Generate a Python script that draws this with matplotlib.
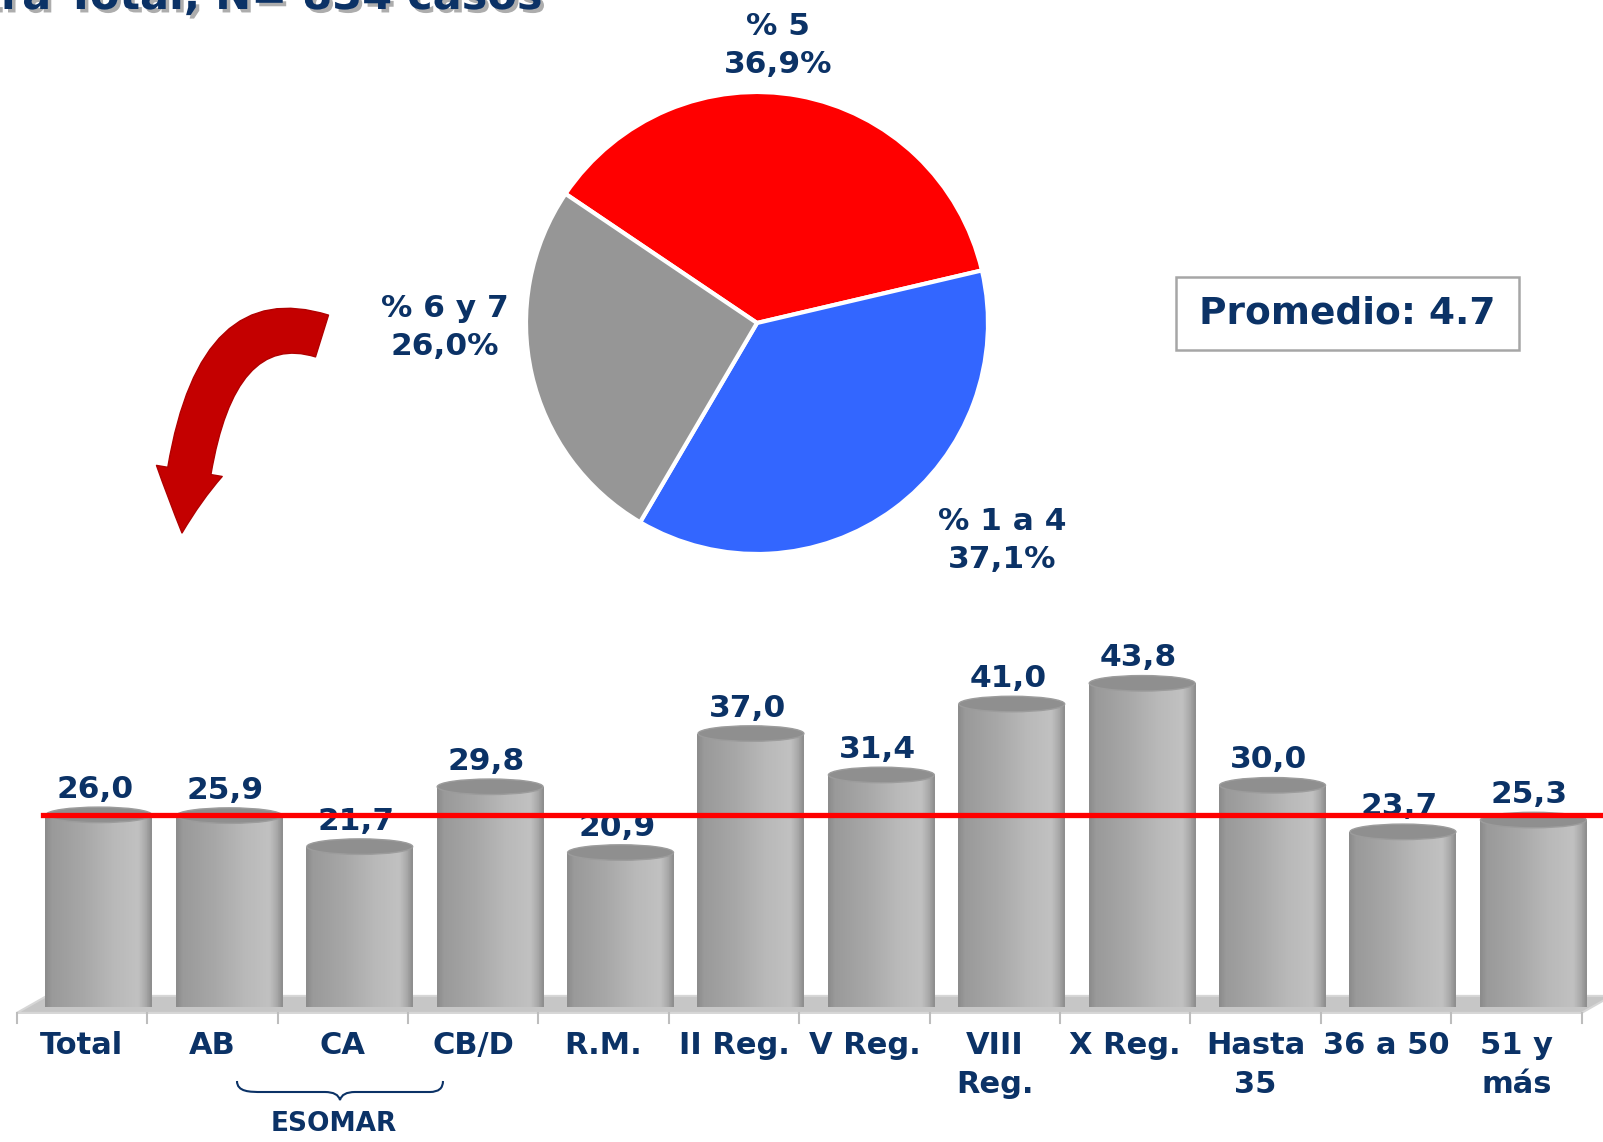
import matplotlib
matplotlib.use("Agg")
import matplotlib.pyplot as plt
import matplotlib.patheffects as pe
import numpy as np
from matplotlib.patches import Ellipse, Polygon, Rectangle, FancyArrowPatch, PathPatch
from matplotlib.path import Path
from matplotlib.colors import LinearSegmentedColormap

# %%
# Data
categories = ["Total", "AB", "CA", "CB/D", "R.M.", "II Reg.", "V Reg.",
              "VIII\nReg.", "X Reg.", "Hasta\n35", "36 a 50", "51 y\nmás"]
values = [26.0, 25.9, 21.7, 29.8, 20.9, 37.0, 31.4, 41.0, 43.8, 30.0, 23.7, 25.3]
reference_value = values[0]

pie_labels = ["% 5", "% 1 a 4", "% 6 y 7"]
pie_values = [36.9, 37.1, 26.0]
pie_colors = ["#FF0000", "#3366FF", "#969696"]

title = "Muestra Total, N= 834 casos"
promedio = "Promedio: 4.7"
group_label = "ESOMAR"

NAVY = "#0B3266"
plt.rcParams["font.family"] = ["DejaVu Sans"]
plt.rcParams["font.weight"] = "bold"

W, H = 1603, 1142
fig = plt.figure(figsize=(W / 100, H / 100), dpi=100)
fig.patch.set_facecolor("white")

# overlay in pixel coordinates for annotations
ov = fig.add_axes([0, 0, 1, 1])
ov.set_xlim(0, W)
ov.set_ylim(H, 0)
ov.axis("off")

ov.text(542, 9, title, ha="right", va="baseline", fontsize=31,
        fontweight="heavy", color=NAVY,
        path_effects=[pe.SimplePatchShadow(offset=(2.5, -2.5), shadow_rgbFace="#8a8a8a", alpha=0.7),
                      pe.Normal()])

# curved arrow (hook from the pie down to the bars)
hook = Path([(322, 336), (200, 298), (182, 533)],
            [Path.MOVETO, Path.CURVE3, Path.CURVE3])
arrow = FancyArrowPatch(path=hook,
                        arrowstyle="simple,head_length=1.5,head_width=1.6,tail_width=1.05",
                        mutation_scale=30, fc="#C40000", ec="#B00000", lw=1)
ov.add_patch(arrow)

# Promedio box
ov.add_patch(Rectangle((1176, 277), 343, 73, fill=False, ec="#A6A6A6", lw=1.8))
ov.text(1347, 314, promedio, ha="center", va="center", fontsize=27, color=NAVY)

# brace under the ESOMAR group
verts = [(237, 1081), (237, 1092), (250, 1092), (262, 1092),
         (325, 1092), (338, 1092), (340, 1100),
         (342, 1092), (355, 1092),
         (430, 1092), (443, 1092), (443, 1081)]
codes = [Path.MOVETO, Path.CURVE4, Path.CURVE4, Path.CURVE4,
         Path.LINETO, Path.CURVE3, Path.CURVE3,
         Path.CURVE3, Path.CURVE3,
         Path.LINETO, Path.CURVE3, Path.CURVE3]
ov.add_patch(PathPatch(Path(verts, codes), fill=False, ec=NAVY, lw=1.5))
ov.text(334, 1111, group_label, ha="center", va="top", fontsize=19, color=NAVY)

# %%
# Pie
cx, cy, r = 757, 323, 231
pax = fig.add_axes([(cx - r) / W, (H - cy - r) / H, 2 * r / W, 2 * r / H])
pax.pie(pie_values, colors=pie_colors, startangle=146, counterclock=False,
        wedgeprops=dict(edgecolor="white", linewidth=3))
pax.set_xlim(-1, 1)
pax.set_ylim(-1, 1)
pax.set_aspect("equal")
pie_pos = [(0.09, 1.20), (1.06, -0.94), (-1.35, -0.02)]
for lab, v, (px, py) in zip(pie_labels, pie_values, pie_pos):
    pax.text(px, py, f"{lab}\n{v:.1f}%".replace(".", ","), ha="center", va="center",
             fontsize=22.5, color=NAVY, linespacing=1.4, clip_on=False)

# %%
# Bars
ppu = 7.39            # pixels per unit
base_px = 1007
ymin, ymax = -2.0, 52.0
xleft = -82 / 130.4
xright = (W - 82) / 130.4
bax = fig.add_axes([0, (H - (base_px - ymin * ppu)) / H, 1, (ymax - ymin) * ppu / H])
bax.set_xlim(xleft, xright)
bax.set_ylim(ymin, ymax)
bax.axis("off")
bax.patch.set_alpha(0)

x = np.arange(len(categories))
shift, bw = 0.13, 0.82

# floor
floor = Polygon([(-0.5, -0.8), (len(x) - 0.5, -0.8), (len(x) - 0.27, 1.5), (-0.27, 1.5)],
                closed=True, fc="#C6C6C6", ec="#D6D6D6", lw=1.5, zorder=1)
bax.add_patch(floor)
for t in np.arange(-0.5, len(x), 1.0):
    bax.plot([t, t], [-0.8, -2.2], color="#BDBDBD", lw=1.5, zorder=1, clip_on=False)

cmap = LinearSegmentedColormap.from_list("cyl", [
    (0.0, "#8c8c8c"), (0.06, "#9a9a9a"), (0.35, "#a7a7a7"),
    (0.65, "#b9b9b9"), (0.88, "#c1c1c1"), (0.95, "#a9a9a9"), (1.0, "#8e8e8e")])
grad = np.linspace(0, 1, 64).reshape(1, -1)

bars = bax.bar(x + shift, values, width=bw, color="#aaaaaa", zorder=2)
for rect, v, xi in zip(bars, values, x):
    x0 = rect.get_x()
    im = bax.imshow(grad, extent=[x0, x0 + bw, 0, v], aspect="auto", cmap=cmap, zorder=2.1)
    im.set_clip_path(rect)
    bax.add_patch(Ellipse((x0 + bw / 2, v), bw * 0.99, 2.1, fc="#8F8F8F", ec="#9c9c9c",
                          lw=1, zorder=2.2))
    bax.text(xi + 0.1, v + 2.3, f"{v:.1f}".replace(".", ","), ha="center", va="baseline",
             fontsize=22.5, color=NAVY, zorder=3)
bax.set_xlim(xleft, xright)
bax.set_ylim(ymin, ymax)

for xi, lab in zip(x, categories):
    bax.text(xi, -3.3, lab, ha="center", va="top", fontsize=22, color=NAVY,
             linespacing=1.4, clip_on=False)

bax.plot([-0.3, xright], [reference_value, reference_value], color="#FF0000", lw=3.8,
         zorder=4, clip_on=False)

fig.savefig("out.png", dpi=100)
